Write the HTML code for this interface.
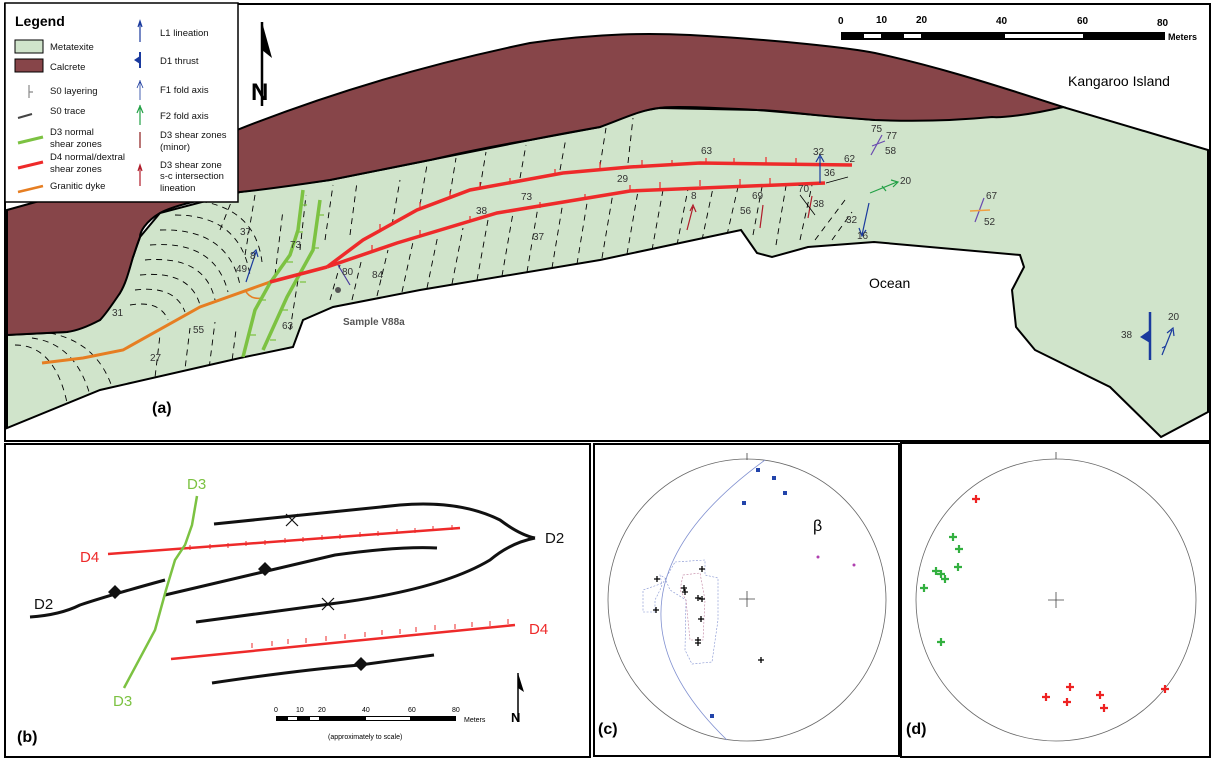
<!DOCTYPE html>
<html><head><meta charset="utf-8"><style>
html,body{margin:0;padding:0;background:#fff}
svg{display:block}
text{font-family:"Liberation Sans",sans-serif}
</style></head><body>
<svg width="1212" height="762" viewBox="0 0 1212 762" xmlns="http://www.w3.org/2000/svg">
<defs>
<clipPath id="meta"><path d="M7,335 L67,332 L100,320 L120,293 L133,257 L140,237 L160,213 L240,192 L330,180 L430,160 L530,140 L600,127 L631,113 L659,108 L757,110 L875,120 L992,117 L1063,107 L1208,150 L1208,412 L1161,437 L1110,387 L1035,350 L1016,327 L1012,290 L1024,267 L1020,255 L874,242 L808,247 L772,257 L757,253 L741,230 L600,260 L420,290 L333,307 L303,320 L293,347 L240,358 L100,390 L7,428 Z"/></clipPath>
</defs>
<rect x="5" y="4" width="1205" height="437" fill="#fff" stroke="#000" stroke-width="2"/>
<path d="M7,335 L67,332 L100,320 L120,293 L133,257 L140,237 L160,213 L240,192 L330,180 L430,160 L530,140 L600,127 L631,113 L659,108 L757,110 L875,120 L992,117 L1063,107 L1208,150 L1208,412 L1161,437 L1110,387 L1035,350 L1016,327 L1012,290 L1024,267 L1020,255 L874,242 L808,247 L772,257 L757,253 L741,230 L600,260 L420,290 L333,307 L303,320 L293,347 L240,358 L100,390 L7,428 Z" fill="#d0e4cb" stroke="#000" stroke-width="2"/>
<path d="M7,210 L43,200 C120,175 200,150 237,130 C300,105 400,70 530,43 C600,33 650,33 690,35 C780,40 850,48 875,53 C930,65 980,80 1063,107 C1030,115 1000,118 992,117 C940,122 900,121 875,120 C800,115 780,110 757,110 C700,107 670,106 659,108 C640,110 620,120 600,127 C560,134 540,138 530,140 C470,150 440,158 430,160 C380,170 350,176 330,180 C290,186 260,190 240,192 C200,200 175,205 160,213 C145,222 140,232 140,237 C135,250 134,255 133,257 C128,275 125,285 120,293 C112,305 105,315 100,320 C85,328 75,331 67,332 L7,335 Z" fill="#874549" stroke="#000" stroke-width="2"/>
<g clip-path="url(#meta)" stroke="#000" stroke-width="0.9" fill="none" stroke-dasharray="6,5">
<path d="M190 200 Q255 205 262 262"/><path d="M175 215 Q240 215 250 275"/><path d="M160 230 Q228 228 240 285"/><path d="M150 245 Q215 240 228 292"/><path d="M145 260 Q205 255 215 300"/><path d="M140 275 Q190 270 200 305"/><path d="M135 290 Q175 285 185 312"/><path d="M130 305 Q160 300 168 320"/>
<path d="M15 345 Q60 345 70 420"/><path d="M32 338 Q85 345 95 420"/><path d="M50 333 Q110 345 118 415"/>
<path d="M150 420 L160 335"/><path d="M180 410 L190 328"/><path d="M205 400 L215 322"/><path d="M228 392 L236 330"/><path d="M220 230 L232 200"/>
<path d="M245 255 L255 195"/><path d="M275 275 L283 210"/><path d="M290 330 L298 280"/><path d="M300 250 L306 195"/><path d="M330 300 L340 265"/><path d="M325 240 L333 185"/><path d="M350 235 L357 182"/>
<path d="M352 300 L362 258"/><path d="M377 296 L388 250"/><path d="M402 292 L413 242"/><path d="M427 288 L438 235"/><path d="M452 284 L463 228"/><path d="M477 280 L488 220"/><path d="M502 276 L513 213"/><path d="M527 272 L538 207"/><path d="M552 268 L563 202"/><path d="M577 264 L588 197"/><path d="M602 258 L613 193"/><path d="M627 254 L638 191"/><path d="M652 250 L663 190"/><path d="M677 245 L688 189"/><path d="M702 240 L713 188"/><path d="M727 235 L738 187"/><path d="M753 235 L762 187"/><path d="M776 245 L786 186"/><path d="M800 240 L812 185"/><path d="M815 240 L845 200"/><path d="M832 240 L852 212"/>
<path d="M392 225 L400 180"/><path d="M420 205 L427 165"/><path d="M450 195 L456 158"/><path d="M480 188 L486 152"/><path d="M520 178 L526 145"/><path d="M560 170 L566 138"/><path d="M600 166 L606 128"/><path d="M628 163 L633 118"/>
</g>
<path d="M42,363 L83,358 L123,350 L200,307 L270,282" fill="none" stroke="#e67e22" stroke-width="3"/>
<path d="M245,290 Q250,300 262,298" fill="none" stroke="#e67e22" stroke-width="1.5"/>
<g stroke="#7cc242" stroke-width="3.5" fill="none">
<path d="M303,190 L298,230 L290,255 L270,283 L255,310 L243,357"/>
<path d="M320,200 L313,250 L287,297 L263,350"/>
</g>
<g stroke="#7cc242" stroke-width="1.2">
<path d="M301,205 L307,205 M297,232 L303,232 M287,262 L293,262 M260,300 L266,300 M250,335 L256,335"/>
<path d="M318,215 L324,215 M313,248 L319,248 M300,282 L306,282 M282,310 L288,310 M270,340 L276,340"/>
</g>
<g stroke="#ee2a2a" stroke-width="3.5" fill="none">
<path d="M270,282 L327,267"/>
<path d="M327,267 L363,240 L417,210 L470,190 L563,173 L630,167 L700,163 L852,165"/>
<path d="M327,267 L397,243 L497,213 L630,191 L825,183"/>
</g>
<g stroke="#ee2a2a" stroke-width="1.2">
<path d="M380,230 L380,224 M420,208 L420,202 M450,197 L450,191 M480,188 L480,182 M510,184 L510,178 M555,175 L555,169 M600,168 L600,162 M642,166 L642,160 M672,166 L672,160 M706,164 L706,158 M734,164 L734,158 M766,163 L766,157 M796,164 L796,158"/>
<path d="M372,251 L372,245 M420,236 L420,230 M470,222 L470,216 M540,208 L540,202 M585,200 L585,194 M630,191 L630,185 M660,188 L660,182 M700,186 L700,180 M740,185 L740,179 M770,184 L770,178"/>
</g>
<g fill="none" stroke-width="1.2">
<path d="M246,282 L256,252 M252,254 L256,250 L258,257" stroke="#1a3a9e"/>
<path d="M820,183 L820,157 M816,162 L820,155 L824,162" stroke="#1a3a9e"/>
<path d="M869,203 L862,235 M859,228 L862,236 L866,230" stroke="#1a3a9e"/>
<path d="M870,193 L897,182 M891,180 L898,182 L893,187 M882,186 L886,191" stroke="#22a045"/>
<path d="M871,155 L882,135 M872,146 L885,141" stroke="#6a4bb0"/>
<path d="M975,222 L984,198" stroke="#6a4bb0"/>
<path d="M970,211 L990,210" stroke="#f0a040" stroke-width="1.5"/>
<path d="M687,230 L693,207 M690,211 L693,205 L696,212" stroke="#b01c2a"/>
<path d="M760,228 L763,205" stroke="#b01c2a"/>
<path d="M808,218 L812,196" stroke="#b01c2a"/>
<path d="M800,195 L815,215 M826,183 L848,177" stroke="#000" stroke-width="0.8"/>
<path d="M338,265 L350,285" stroke="#4a3aa0"/>
<path d="M1162,355 L1172,330 M1167,333 L1173,328 L1174,336 M1162,348 L1166,346" stroke="#1a3a9e"/>
<path d="M1150,312 L1150,360" stroke="#1a3a9e" stroke-width="2.5"/>
</g>
<path d="M1150,330 L1140,337 L1150,343 Z" fill="#1a3a9e"/>
<circle cx="338" cy="290" r="3" fill="#555"/>
<g font-size="10" fill="#333">
<text x="240" y="235">37</text><text x="290" y="248">73</text><text x="250" y="259">8</text><text x="236" y="272">49</text><text x="342" y="275">80</text><text x="372" y="278">84</text><text x="112" y="316">31</text><text x="193" y="333">55</text><text x="150" y="361">27</text><text x="282" y="329">63</text><text x="476" y="214">38</text><text x="521" y="200">73</text><text x="533" y="240">37</text><text x="617" y="182">29</text><text x="701" y="154">63</text><text x="813" y="155">32</text><text x="844" y="162">62</text><text x="824" y="176">36</text><text x="691" y="199">8</text><text x="752" y="199">69</text><text x="740" y="214">56</text><text x="798" y="192">70</text><text x="813" y="207">38</text><text x="846" y="223">32</text><text x="857" y="239">16</text><text x="871" y="132">75</text><text x="886" y="139">77</text><text x="885" y="154">58</text><text x="900" y="184">20</text><text x="986" y="199">67</text><text x="984" y="225">52</text><text x="1121" y="338">38</text><text x="1168" y="320">20</text>
</g>
<text x="343" y="325" font-size="10" font-weight="bold" fill="#555">Sample V88a</text>
<text x="869" y="288" font-size="14" fill="#000">Ocean</text>
<text x="1068" y="86" font-size="14" fill="#000">Kangaroo Island</text>
<text x="152" y="413" font-size="16" font-weight="bold" font-family="Liberation Serif,serif">(a)</text>
<rect x="841" y="32" width="324" height="8" fill="#000"/>
<rect x="864" y="34" width="17" height="4" fill="#fff"/><rect x="904" y="34" width="17" height="4" fill="#fff"/><rect x="1005" y="34" width="78" height="4" fill="#fff"/>
<g font-size="10" font-weight="bold"><text x="838" y="24">0</text><text x="876" y="23">10</text><text x="916" y="23">20</text><text x="996" y="24">40</text><text x="1077" y="24">60</text><text x="1157" y="26">80</text></g>
<text x="1168" y="40" font-size="9" font-weight="bold">Meters</text>
<path d="M262,22 L262,106" stroke="#000" stroke-width="2.5"/>
<path d="M262,22 L272,58 L262,50 Z" fill="#000"/>
<text x="251" y="100" font-size="24" font-weight="bold">N</text>
<rect x="5" y="3" width="233" height="199" fill="#fff" stroke="#000" stroke-width="1.5"/>
<text x="15" y="26" font-size="14" font-weight="bold">Legend</text>
<rect x="15" y="40" width="28" height="13" fill="#d0e4cb" stroke="#000"/>
<rect x="15" y="59" width="28" height="13" fill="#874549" stroke="#000"/>
<g font-size="9.5" fill="#111">
<text x="50" y="50">Metatexite</text><text x="50" y="70">Calcrete</text><text x="50" y="94">S0 layering</text><text x="50" y="114">S0 trace</text><text x="50" y="135">D3 normal</text><text x="50" y="147">shear zones</text><text x="50" y="160">D4 normal/dextral</text><text x="50" y="172">shear zones</text><text x="50" y="189">Granitic dyke</text>
<text x="160" y="36">L1 lineation</text><text x="160" y="64">D1 thrust</text><text x="160" y="93">F1 fold axis</text><text x="160" y="119">F2 fold axis</text><text x="160" y="138">D3 shear zones</text><text x="160" y="150">(minor)</text><text x="160" y="168">D3 shear zone</text><text x="160" y="179">s-c intersection</text><text x="160" y="191">lineation</text>
</g>
<g fill="none" stroke-width="1.2">
<path d="M29,85 L29,98 M29,92 L33,92" stroke="#888"/>
<path d="M18,118 L32,114" stroke="#444" stroke-width="2"/>
<path d="M18,143 L43,137" stroke="#7cc242" stroke-width="3"/>
<path d="M18,168 L43,162" stroke="#ee2a2a" stroke-width="3"/>
<path d="M18,192 L43,186" stroke="#e67e22" stroke-width="2.5"/>
<path d="M140,22 L140,42 M138,27 L140,21 L142,27" stroke="#1a3a9e"/>
<path d="M140,52 L140,68" stroke="#1a3a9e" stroke-width="2"/>
<path d="M140,80 L140,100 M137,88 L140,81 L143,88" stroke="#1a3a9e" stroke-width="0.8"/>
<path d="M140,105 L140,125 M137,113 L140,106 L143,113" stroke="#22a045"/>
<path d="M140,132 L140,148" stroke="#8b1a1a"/>
<path d="M140,166 L140,186 M138,171 L140,165 L142,171" stroke="#b01c2a"/>
</g>
<path d="M140,56 L134,60 L140,64 Z" fill="#1a3a9e"/>
<rect x="5" y="444" width="585" height="313" fill="#fff" stroke="#000" stroke-width="2"/>
<g fill="none" stroke="#111" stroke-width="3">
<path d="M214,524 Q300,515 400,505 Q460,500 500,520 Q520,535 535,538"/>
<path d="M535,538 Q510,543 490,560 Q440,590 330,604 L196,622"/>
<path d="M165,595 Q250,575 335,555 Q400,546 437,548"/>
<path d="M30,617 Q60,615 80,605 Q110,595 165,580"/>
<path d="M212,683 Q300,670 360,665 L434,655"/>
</g>
<path d="M286,514 L298,526 M298,514 L286,526 M322,598 L334,610 M334,598 L322,610" stroke="#111" stroke-width="1.2"/>
<path d="M115,585 L122,592 L115,599 L108,592 Z M265,562 L272,569 L265,576 L258,569 Z M361,657 L368,664 L361,671 L354,664 Z" fill="#111"/>
<g stroke="#ee2a2a" fill="none">
<path d="M108,554 L460,528" stroke-width="2.5"/>
<path d="M171,659 L515,625" stroke-width="2.5"/>
<path d="M190,550 L190,545 M210,549 L210,544 M228,548 L228,543 M246,546 L246,541 M265,545 L265,540 M285,543 L285,538 M303,542 L303,537 M322,540 L322,535 M340,539 L340,534 M360,537 L360,532 M378,536 L378,531 M397,534 L397,529 M415,533 L415,528 M433,531 L433,526 M452,530 L452,525" stroke-width="1"/>
<path d="M252,648 L252,643 M272,646 L272,641 M288,644 L288,639 M306,643 L306,638 M326,641 L326,636 M345,639 L345,634 M365,637 L365,632 M382,635 L382,630 M400,634 L400,629 M416,632 L416,627 M435,630 L435,625 M455,629 L455,624 M472,627 L472,622 M490,626 L490,621 M508,624 L508,619" stroke-width="1"/>
</g>
<path d="M197,496 L192,525 L185,545 L175,560 L166,590 L155,630 L124,688" fill="none" stroke="#7cc242" stroke-width="2.5"/>
<text x="187" y="489" font-size="15" fill="#7cc242">D3</text>
<text x="113" y="706" font-size="15" fill="#7cc242">D3</text>
<text x="80" y="562" font-size="15" fill="#ee2a2a">D4</text>
<text x="529" y="634" font-size="15" fill="#ee2a2a">D4</text>
<text x="34" y="609" font-size="15" fill="#111">D2</text>
<text x="545" y="543" font-size="15" fill="#111">D2</text>
<rect x="276" y="716" width="180" height="5" fill="#000"/>
<rect x="288" y="717" width="9" height="3" fill="#fff"/><rect x="310" y="717" width="9" height="3" fill="#fff"/><rect x="366" y="717" width="44" height="3" fill="#fff"/>
<g font-size="7"><text x="274" y="712">0</text><text x="296" y="712">10</text><text x="318" y="712">20</text><text x="362" y="712">40</text><text x="408" y="712">60</text><text x="452" y="712">80</text><text x="464" y="722">Meters</text><text x="328" y="739">(approximately to scale)</text></g>
<path d="M518,673 L518,722" stroke="#000" stroke-width="1.5"/><path d="M518,673 L524,692 L518,688 Z" fill="#000"/>
<text x="511" y="722" font-size="13" font-weight="bold">N</text>
<text x="17" y="742" font-size="16" font-weight="bold" font-family="Liberation Serif,serif">(b)</text>
<rect x="594" y="444" width="305" height="312" fill="#fff" stroke="#000" stroke-width="2"/>
<ellipse cx="747" cy="600" rx="139" ry="141" fill="none" stroke="#666" stroke-width="0.8"/>
<path d="M747,453 L747,460 M739,599 L755,599 M747,591 L747,607" stroke="#444" stroke-width="0.8"/>
<path d="M765,460 Q578,596 727,740" fill="none" stroke="#8090d0" stroke-width="0.8"/>
<path d="M675,562 L705,560 L705,575 L718,578 L718,620 L712,662 L692,664 L685,650 L686,600 L670,590 L665,578 L660,575 L662,585 L660,590 L655,600 L655,612 L643,612 L643,590 L663,583 Z" fill="none" stroke="#8090d0" stroke-width="0.6" stroke-dasharray="2,1.5"/>
<path d="M683,575 L700,573 L705,600 L703,640 L690,640 L686,600 L680,590 Z" fill="none" stroke="#c080a0" stroke-width="0.6" stroke-dasharray="2,1.5"/>
<g fill="#2244aa"><rect x="756" y="468" width="4" height="4"/><rect x="772" y="476" width="4" height="4"/><rect x="783" y="491" width="4" height="4"/><rect x="742" y="501" width="4" height="4"/><rect x="710" y="714" width="4" height="4"/></g>
<circle cx="818" cy="557" r="1.5" fill="#b040b0"/><circle cx="854" cy="565" r="1.5" fill="#b040b0"/>
<text x="813" y="531" font-size="16" font-family="Liberation Serif,serif">β</text>
<g stroke="#000" stroke-width="1.3">
<path d="M654,579 h6 M657,576 v6 M653,610 h6 M656,607 v6 M699,569 h6 M702,566 v6 M681,588 h6 M684,585 v6 M682,592 h6 M685,589 v6 M695,598 h6 M698,595 v6 M699,599 h6 M702,596 v6 M698,619 h6 M701,616 v6 M695,640 h6 M698,637 v6 M695,643 h6 M698,640 v6 M758,660 h6 M761,657 v6"/>
</g>
<text x="598" y="734" font-size="16" font-weight="bold" font-family="Liberation Serif,serif">(c)</text>
<rect x="901" y="443" width="309" height="314" fill="#fff" stroke="#000" stroke-width="2"/>
<ellipse cx="1056" cy="600" rx="140" ry="141" fill="none" stroke="#666" stroke-width="0.8"/>
<path d="M1056,452 L1056,459 M1048,600 L1064,600 M1056,592 L1056,608" stroke="#444" stroke-width="0.8"/>
<g stroke="#ee2222" stroke-width="2.2">
<path d="M972,499 h8 M976,495 v8 M1066,687 h8 M1070,683 v8 M1042,697 h8 M1046,693 v8 M1063,702 h8 M1067,698 v8 M1096,695 h8 M1100,691 v8 M1100,708 h8 M1104,704 v8 M1161,689 h8 M1165,685 v8"/>
</g>
<g stroke="#33b040" stroke-width="2.2">
<path d="M949,537 h8 M953,533 v8 M955,549 h8 M959,545 v8 M954,567 h8 M958,563 v8 M932,571 h8 M936,567 v8 M937,574 h8 M941,570 v8 M941,579 h8 M945,575 v8 M920,588 h8 M924,584 v8 M937,642 h8 M941,638 v8"/>
</g>
<text x="906" y="734" font-size="16" font-weight="bold" font-family="Liberation Serif,serif">(d)</text>
</svg>
</body></html>
